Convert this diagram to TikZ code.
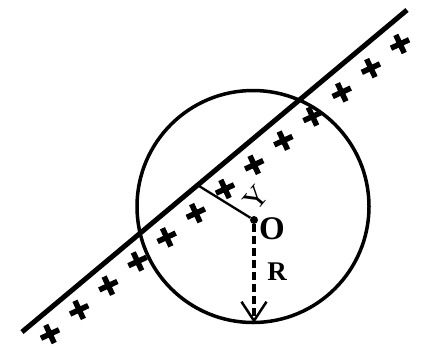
\documentclass[tikz,border=0pt]{standalone}
\usepackage{fontspec}
\setmainfont{Liberation Serif}
\usetikzlibrary{arrows.meta}

\begin{document}
\begin{tikzpicture}[x=1pt,y=-1pt,
    charge/.pic={\draw[line width=5.5pt] (-10,0) -- (10,0) (0,-10) -- (0,10);}]
    \useasboundingbox (0,0) rectangle (426,346);

    % Charged wire
    \coordinate (A) at (22,332);
    \coordinate (B) at (407,10);
    \draw[line width=5pt] (A) -- (B);

    % Gaussian circle
    \draw[line width=3.5pt] (253,206.5) circle (116pt);

    % Plus charges
    \foreach \i in {0,...,12} {
        \pic[rotate=25] at ({50+29.17*\i},{334-24.17*\i}) {charge};
    }

    % Centre and distance
    \node[circle,fill,inner sep=0pt,minimum size=8pt] (O) at (254,220) {};
    \coordinate (F) at (199,186);
    \draw[line width=2.3pt] (F) -- (O);
    \node[rotate=50,font=\fontsize{30}{30}\selectfont] (ylab) at (256,198) {Y};
    \node[font=\bfseries\fontsize{33}{33}\selectfont] (olab) at (272,229) {O};

    % Radius
    \coordinate (Rend) at (254,323);
    \draw[line width=3.5pt,dash pattern=on 8pt off 4pt,
        -{Straight Barb[length=19pt,width=25pt,line width=2.5pt]}] (O) -- (Rend);
    \node[font=\bfseries\fontsize{27}{27}\selectfont] (rlab) at (277,272) {R};

\end{tikzpicture}
\end{document}
